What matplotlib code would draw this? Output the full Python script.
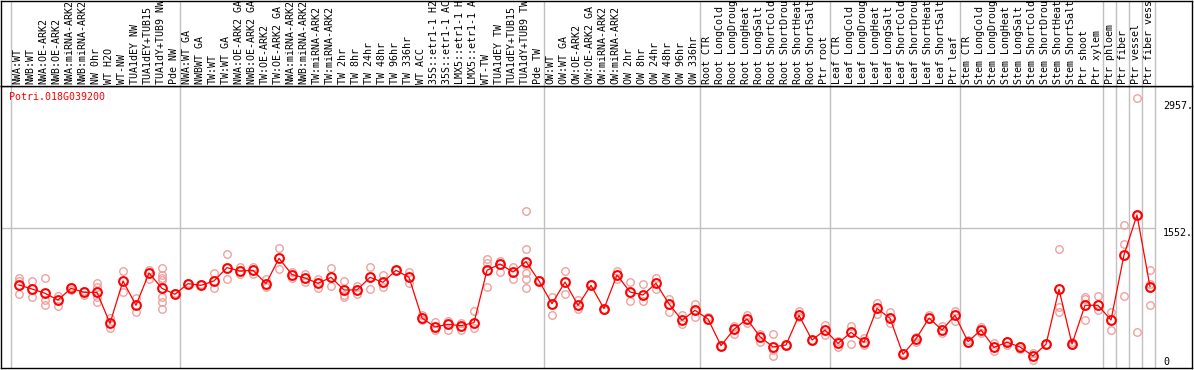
import matplotlib
matplotlib.use("Agg")
import matplotlib.pyplot as plt

# --- sample labels (as shown, truncated in the header) ---
labels_nw = ["NWA:WT", "NWB:WT", "NWA:OE-ARK2", "NWB:OE-ARK2", "NWA:miRNA-ARK2",
             "NWB:miRNA-ARK2", "NW 0hr", "WT H2O", "WT-NW", "TUA1dEY NW",
             "TUA1dEY+TUB15", "TUA1dY+TUB9 NW", "Pde NW"]
labels_tw = ["NWA:WT GA", "NWBWT GA", "TW:WT", "TW:WT GA", "NWA:OE-ARK2 GA",
             "NWB:OE-ARK2 GA", "TW:OE-ARK2", "TW:OE-ARK2 GA", "NWA:miRNA-ARK2",
             "NWB:miRNA-ARK2", "TW:miRNA-ARK2", "TW:miRNA-ARK2", "TW 2hr", "TW 8hr",
             "TW 24hr", "TW 48hr", "TW 96hr", "TW 336hr", "WT ACC", "35S::etr1-1 H2",
             "35S::etr1-1 AC", "LMX5::etr1-1 H", "LMX5::etr1-1 A", "WT-TW",
             "TUA1dEY TW", "TUA1dEY+TUB15", "TUA1dY+TUB9 TW", "Pde TW"]
labels_ow = ["OW:WT", "OW:WT GA", "OW:OE-ARK2", "OW:OE-ARK2 GA", "OW:miRNA-ARK2",
             "OW:miRNA-ARK2", "OW 2hr", "OW 8hr", "OW 24hr", "OW 48hr", "OW 96hr",
             "OW 336hr"]
labels_root = ["Root CTR", "Root LongCold", "Root LongDroug", "Root LongHeat",
               "Root LongSalt", "Root ShortCold", "Root ShortDrou", "Root ShortHeat",
               "Root ShortSalt", "Ptr root"]
labels_leaf = ["Leaf CTR", "Leaf LongCold", "Leaf LongDroug", "Leaf LongHeat",
               "Leaf LongSalt", "Leaf ShortCold", "Leaf ShortDrou", "Leaf ShortHeat",
               "Leaf ShortSalt", "Ptr leaf"]
labels_stem = ["Stem CTR", "Stem LongCold", "Stem LongDroug", "Stem LongHeat",
               "Stem LongSalt", "Stem ShortCold", "Stem ShortDrou", "Stem ShortHeat",
               "Stem ShortSalt", "Ptr shoot"]
labels_ptr = ["Ptr xylem", "Ptr phloem", "Ptr fiber", "Ptr vessel", "Ptr fiber vess"]

# index where a separator line sits before the sample
group_starts = [0, 13, 41, 53, 63, 73, 84, 85, 86, 87, 88]

gene_name = "Potri.018G039200"
axis_marks = [2957, 1552, 0]

# --- mean expression per sample ---
means = [920, 876, 828, 754, 883, 839, 839, 495, 965, 695, 1053, 883, 817,
         935, 916, 965, 1112, 1075, 1083, 935, 1216, 1035, 998, 939, 1005, 865, 865,
         1005, 950, 1083, 1005, 554, 455, 484, 469, 503, 1083, 1153, 1064, 1179, 965,
         713, 953, 695, 916, 658, 1031, 843, 809, 939, 710, 528, 639,
         543, 248, 429, 543, 347, 233, 255, 584, 310, 421,
         273, 395, 285, 661, 551, 152, 322, 554, 421, 584,
         292, 421, 229, 285, 233, 133, 262, 872, 266, 695,
         695, 532, 1253, 1696, 902]

# --- replicate values per sample ---
reps = [[1001, 968, 817], [965, 791], [994, 754, 698], [798, 687], [902, 865],
        [854, 809], [946, 902, 791, 728], [558, 447], [1075, 839], [772, 617],
        [1086, 983], [1105, 1031, 994, 976, 791, 728, 650], [828],
        [946], [927], [1049, 891], [1260, 983], [1116, 1042], [1123, 1042],
        [983, 902], [1327, 1094], [1064, 994], [1038, 957], [983, 883], [1105, 913],
        [965, 809, 791], [913, 820], [1116, 876], [1027, 902], [1083], [1068, 939],
        [588, 532], [514, 421], [521, 421], [495, 421], [632, 447],
        [1205, 1160, 894], [1186, 1068], [1116, 983],
        [1744, 1316, 1140, 1057, 983, 883], [976],
        [791, 584], [1075, 817], [754, 650], [927], [643], [1079, 983], [950, 739],
        [927, 739], [994, 872], [761, 617], [588, 484], [710, 569],
        [569], [248], [466, 377], [588, 495], [377, 292], [377, 200, 133], [255],
        [636, 562], [310], [477, 366],
        [303, 236], [466, 266], [329, 255], [717, 595], [624, 503], [163],
        [347, 292], [588], [469, 384], [636, 525],
        [310, 273], [458, 392], [273, 192], [299, 255], [248, 207], [163, 89],
        [262], [1316, 680, 617], [285, 255], [791, 761, 532],
        [798, 643], [617, 421], [1585, 1375, 798], [2990, 1696, 395],
        [1086, 931, 698]]


def draw_chart():
    labels = (labels_nw + labels_tw + labels_ow + labels_root + labels_leaf
              + labels_stem + labels_ptr)
    xs = list(range(len(means)))

    W, H = 1194, 370
    fig = plt.figure(figsize=(W / 100, H / 100), dpi=100)
    mono = "DejaVu Sans Mono"
    fsize = 7.2
    grey = "#c0c0c0"
    red = "#ff0000"
    pink = "#f0a0a0"

    xlim = (-18 / 13, 1173 / 13)

    # data area
    ax = fig.add_axes([1 / W, 2 / H, 1191 / W, 282 / H])
    ax.set_xlim(*xlim)
    ax.set_ylim(0, 3126)
    ax.set_xticks([])
    ax.set_yticks([])
    for s in ax.spines.values():
        s.set_color("black")
        s.set_linewidth(1.0)

    for g in group_starts:
        ax.axvline(g - 0.62, color=grey, lw=1.0, zorder=1)
    ax.plot([xlim[0], 88 - 0.62], [1552, 1552], color=grey, lw=1.0, zorder=1)

    # replicates
    for i, vals in enumerate(reps):
        ax.plot([i] * len(vals), vals, linestyle="none", marker="o",
                markersize=5.4, markerfacecolor="none", markeredgecolor=pink,
                markeredgewidth=1.0, zorder=2)

    # means
    ax.plot(xs, means, color=red, lw=0.9, marker="o", markersize=6.3,
            markerfacecolor="none", markeredgecolor=red, markeredgewidth=1.5,
            zorder=3)

    # right side value marks
    ax.text(88.0, axis_marks[0], f"{axis_marks[0]}.", family=mono, fontsize=fsize,
            va="top", ha="left")
    ax.text(88.0, axis_marks[1], f"{axis_marks[1]}.", family=mono, fontsize=fsize,
            va="top", ha="left")
    ax.text(88.0, 12, f"{axis_marks[2]}", family=mono, fontsize=fsize,
            va="bottom", ha="left")

    fig.text(9 / W, 1 - 97 / H, gene_name, color=red, family=mono, fontsize=fsize,
             va="center", ha="left")

    # header with rotated sample names
    hx = fig.add_axes([1 / W, 284 / H, 1191 / W, 85.5 / H])
    hx.set_xlim(*xlim)
    hx.set_ylim(0, 86)
    hx.set_xticks([])
    hx.set_yticks([])
    for s in hx.spines.values():
        s.set_color("black")
        s.set_linewidth(1.0)
    for g in group_starts:
        hx.axvline(g - 0.62, color=grey, lw=1.0, zorder=1)
    for i, lab in enumerate(labels):
        hx.text(i - 0.1, 2.5, lab, rotation=90, family=mono, fontsize=fsize,
                ha="center", va="bottom", clip_on=True)

    fig.savefig("out.png", dpi=100)


if __name__ == "__main__":
    draw_chart()
